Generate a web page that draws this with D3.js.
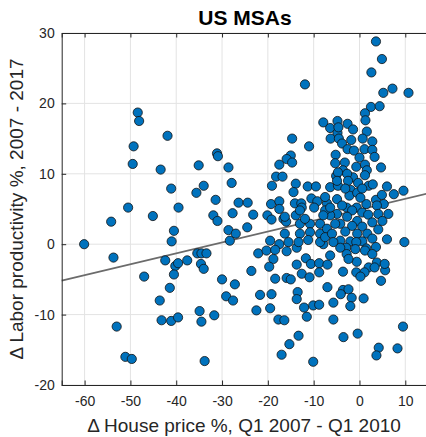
<!DOCTYPE html>
<html>
<head>
<meta charset="utf-8">
<script src="https://cdn.jsdelivr.net/npm/d3@7"></script>
<style>
  html, body { margin: 0; padding: 0; background: #fff; }
  svg { display: block; font-family: "Liberation Sans", Arial, Helvetica, sans-serif; }
</style>
</head>
<body>
<svg id="chart" width="426" height="437"></svg>
<script>
// Change in house prices (Q1 2007 - Q1 2010) vs change in labor productivity (2007 - 2017), by MSA
const housePrice = [
  -48.4,-48.1,-41.9,-49.3,-49.5,-43.4,-35.1,-31.1,-30.9,-28.6,-41.1,-34.0,-35.6,-31.4,-27.9,-50.5,-39.5,-54.2,-45.1,-31.9,
  -31.0,-27.7,-40.5,-41.0,-60.1,-53.7,-42.4,-40.2,-39.6,-37.6,-35.4,-34.5,-33.4,-34.6,-34.0,-28.6,-28.3,-47.0,-40.5,-30.0,
  -41.4,-27.2,-43.6,-29.1,-27.6,-34.9,-31.7,-43.2,-41.1,-39.6,-34.5,-53.0,-51.1,-49.7,-33.8,
  3.6,4.9,2.6,-11.9,5.2,7.2,10.7,2.5,4.4,1.2,1.3,-7.9,-4.8,-2.6,-6.4,-1.4,1.6,-4.8,-14.7,-6.3,
  -4.5,0.7,2.8,-11.0,-3.8,-1.8,-2.6,-1.2,1.1,2.8,-15.0,-15.9,-14.7,-5.2,0.0,3.3,-17.5,-5.3,-3.2,-0.7,
  1.2,1.6,4.7,-18.2,-16.8,-5.1,-3.6,-1.4,1.2,-19.1,-13.9,-14.4,-11.3,-9.5,-6.4,-4.7,-1.9,2.0,2.9,6.0,
  7.5,9.6,-26.4,-24.4,-19.3,-17.5,-14.1,-12.7,-10.5,-9.2,-7.1,-4.9,-2.2,1.5,3.6,5.3,-17.5,-12.6,-9.9,-2.8,
  -0.6,3.8,-4.6,
  -4.7,-2.7,-4.9,-2.5,-0.3,-3.1,-0.5,0.6,0.2,-3.8,-1.6,0.6,-4.9,-2.7,-0.5,1.9,4.1,6.3,-4.2,-1.6,
  0.6,2.8,5.0,-3.1,-0.5,1.7,4.1,-4.2,-2.0,0.6,2.8,6.0,9.8,-2.9,1.5,3.6,4.9,
  -23.2,-20.1,-19.2,-16.6,-16.0,-13.9,-27.0,-24.5,-16.3,-16.3,-13.0,-13.0,-10.8,-10.8,-8.6,-8.6,-6.4,-7.5,-19.5,-17.5,
  -15.5,-13.7,-11.2,-7.9,-4.2,-2.8,-0.7,1.2,-22.1,-20.3,-18.8,-19.7,-15.9,-13.7,-11.7,-10.6,-8.8,-7.0,-6.4,-3.6,
  -0.6,-0.7,2.0,3.8,5.6,4.7,-23.6,-18.4,-15.9,-15.0,-12.6,-10.9,-8.8,-7.0,-3.6,-2.4,-4.1,-1.7,-2.0,-5.7,
  0.9,-21.7,-19.2,-13.5,-13.7,-12.1,-10.1,-8.8,-11.5,-22.5,-19.5,-17.7,-16.4,-5.7,9.5,-13.3,-3.5,-0.4,-15.3,4.2,
  3.7,8.3,-17.0,-10.1,
  -0.9,2.8,5.5,3.3,1.1,0.2,-2.4,-18.4,
  -13.0,-7.5,-6.4,-11.9,-7.9,-5.3,-7.1,-13.3,-8.6,-7.5,-6.0,-5.7
];
const laborProd = [
  18.7,17.5,15.4,13.9,11.4,10.6,11.2,12.9,12.5,10.9,7.9,8.3,7.3,6.3,8.7,5.2,5.2,3.2,4.0,4.1,
  3.3,4.4,1.9,0.4,0.0,-1.9,-2.3,-3.1,-2.7,-2.3,-1.3,-1.3,-1.3,-2.8,-3.5,2.0,0.5,-4.6,-4.3,-5.0,
  -6.2,-5.7,-8.0,-7.4,-8.0,-9.5,-10.1,-10.8,-10.9,-10.4,-11.0,-11.7,-16.0,-16.3,-16.6,
  28.8,26.3,24.4,22.7,21.5,22.1,21.5,19.5,19.6,18.6,17.6,17.3,17.5,17.1,16.5,16.3,16.0,15.8,15.0,15.0,
  15.0,15.0,14.6,13.9,14.3,14.8,13.5,13.3,13.5,13.4,12.6,12.1,11.6,12.7,12.3,12.4,11.3,11.5,11.6,11.0,
  11.3,10.5,10.9,9.6,9.6,9.7,10.5,9.5,9.8,8.3,8.6,7.4,8.2,8.2,8.1,8.3,7.7,8.3,8.5,8.2,
  7.1,7.6,5.9,5.9,5.7,6.1,5.8,5.8,6.5,6.1,5.8,6.4,6.9,5.7,6.3,5.7,5.0,5.2,5.2,5.2,
  5.2,5.5,16.6,
  10.2,10.0,9.0,9.0,8.7,7.9,7.3,7.9,6.6,5.5,4.8,4.5,4.3,3.9,3.3,4.2,4.3,4.3,2.9,2.6,
  2.5,3.1,3.3,1.8,1.5,1.5,2.1,0.5,0.4,0.4,0.8,0.7,0.3,-0.5,-0.6,-0.4,7.0,
  4.2,4.1,3.5,3.6,3.2,4.1,1.5,2.4,1.5,3.9,2.9,1.5,2.9,1.7,2.9,1.5,4.1,4.8,0.5,0.0,
  0.3,-0.5,0.6,0.0,-0.5,-1.4,0.3,-0.9,-1.3,-0.9,-2.1,-3.2,-1.0,-2.9,-2.0,-2.8,-2.7,-2.9,-1.6,-3.9,
  -2.5,-4.0,-3.3,-2.6,-3.7,-5.2,-3.8,-4.9,-4.8,-5.0,-4.2,-4.7,-4.0,-6.1,-6.5,-6.4,-7.1,-7.6,-8.8,-8.3,
  -7.7,-7.2,-7.1,-6.8,-7.8,-9.0,-8.7,-8.6,-10.3,-9.4,-9.1,-10.7,-10.8,-10.7,-11.7,-13.0,-13.2,-12.7,-14.2,-14.7,
  -15.8,-14.8,-15.7,-16.7,
  -0.7,-1.4,-2.8,-3.3,-4.0,-4.6,-2.1,-0.8,
  4.8,6.7,5.2,3.6,4.1,2.9,2.2,0.3,0.3,1.0,1.5,0.3
];

// Least-squares line shown across the full x range
const fitIntercept = 4.9;
const fitSlope = 0.155;

const xTicks = [-60, -50, -40, -30, -20, -10, 0, 10];
const yTicks = [-20, -10, 0, 10, 20, 30];
const xDomain = [-65, 15];
const yDomain = [-20, 30];

const svg = d3.select("#chart");
const margin = { left: 61.7, top: 33, bottom: 385 };
const plotRight = 428.2;

const x = d3.scaleLinear().domain(xDomain).range([margin.left, plotRight]);
const y = d3.scaleLinear().domain(yDomain).range([margin.bottom, margin.top]);

const textColor = "#262626";
const gridColor = "#e3e3e3";

// grid
const grid = svg.append("g");
grid.selectAll(".gx").data(xTicks).join("line")
  .attr("x1", d => x(d)).attr("x2", d => x(d))
  .attr("y1", margin.top).attr("y2", margin.bottom)
  .attr("stroke", gridColor).attr("stroke-width", 1);
grid.selectAll(".gy").data(yTicks).join("line")
  .attr("x1", margin.left).attr("x2", plotRight)
  .attr("y1", d => y(d)).attr("y2", d => y(d))
  .attr("stroke", gridColor).attr("stroke-width", 1);

// regression line
const fitLine = xDomain.map(v => [v, fitIntercept + fitSlope * v]);
svg.append("path")
  .datum(fitLine)
  .attr("d", d3.line().x(d => x(d[0])).y(d => y(d[1])))
  .attr("fill", "none")
  .attr("stroke", "#6b6b6b")
  .attr("stroke-width", 1.6);

// points
const points = housePrice.map((hp, i) => ({ hp, lp: laborProd[i] }));
svg.append("g").selectAll("circle").data(points).join("circle")
  .attr("cx", d => x(d.hp))
  .attr("cy", d => y(d.lp))
  .attr("r", 4.6)
  .attr("fill", "#0072BD")
  .attr("stroke", "#111")
  .attr("stroke-width", 0.8);

// axes (ticks point inward)
const tickLen = 4.5;
const xAxisB = d3.axisBottom(x).tickValues(xTicks).tickSize(-tickLen).tickPadding(11).tickFormat(d3.format("d"));
const xAxisT = d3.axisTop(x).tickValues(xTicks).tickSize(-tickLen).tickFormat("");
const yAxisL = d3.axisLeft(y).tickValues(yTicks).tickSize(-tickLen).tickPadding(7).tickFormat(d3.format("d"));

function styleAxis(g) {
  g.select(".domain").attr("stroke", textColor).attr("stroke-width", 1);
  g.selectAll(".tick line").attr("stroke", textColor).attr("stroke-width", 1);
  g.selectAll(".tick text").attr("fill", textColor).attr("font-size", 14)
    .attr("font-family", "Liberation Sans, Arial, sans-serif");
}

svg.append("g").attr("transform", `translate(0,${margin.bottom})`).call(xAxisB).call(styleAxis);
svg.append("g").attr("transform", `translate(0,${margin.top})`).call(xAxisT).call(styleAxis);
svg.append("g").attr("transform", `translate(${margin.left},0)`).call(yAxisL).call(styleAxis);

// plain hyphen for negative tick labels
svg.selectAll(".tick text").text(function() { return d3.select(this).text().replace("\u2212", "-"); });

// title
svg.append("text")
  .attr("x", 245).attr("y", 25)
  .attr("text-anchor", "middle")
  .attr("font-size", 21).attr("font-weight", "bold")
  .attr("fill", "#000")
  .text("US MSAs");

// x label
svg.append("text")
  .attr("x", 244).attr("y", 432)
  .attr("text-anchor", "middle")
  .attr("font-size", 19)
  .attr("fill", textColor)
  .text("\u0394 House price %, Q1 2007 - Q1 2010");

// y label
svg.append("text")
  .attr("transform", `translate(23,${(margin.top + margin.bottom) / 2}) rotate(-90)`)
  .attr("text-anchor", "middle")
  .attr("font-size", 19)
  .attr("fill", textColor)
  .text("\u0394 Labor productivity %, 2007 - 2017");
</script>
</body>
</html>
